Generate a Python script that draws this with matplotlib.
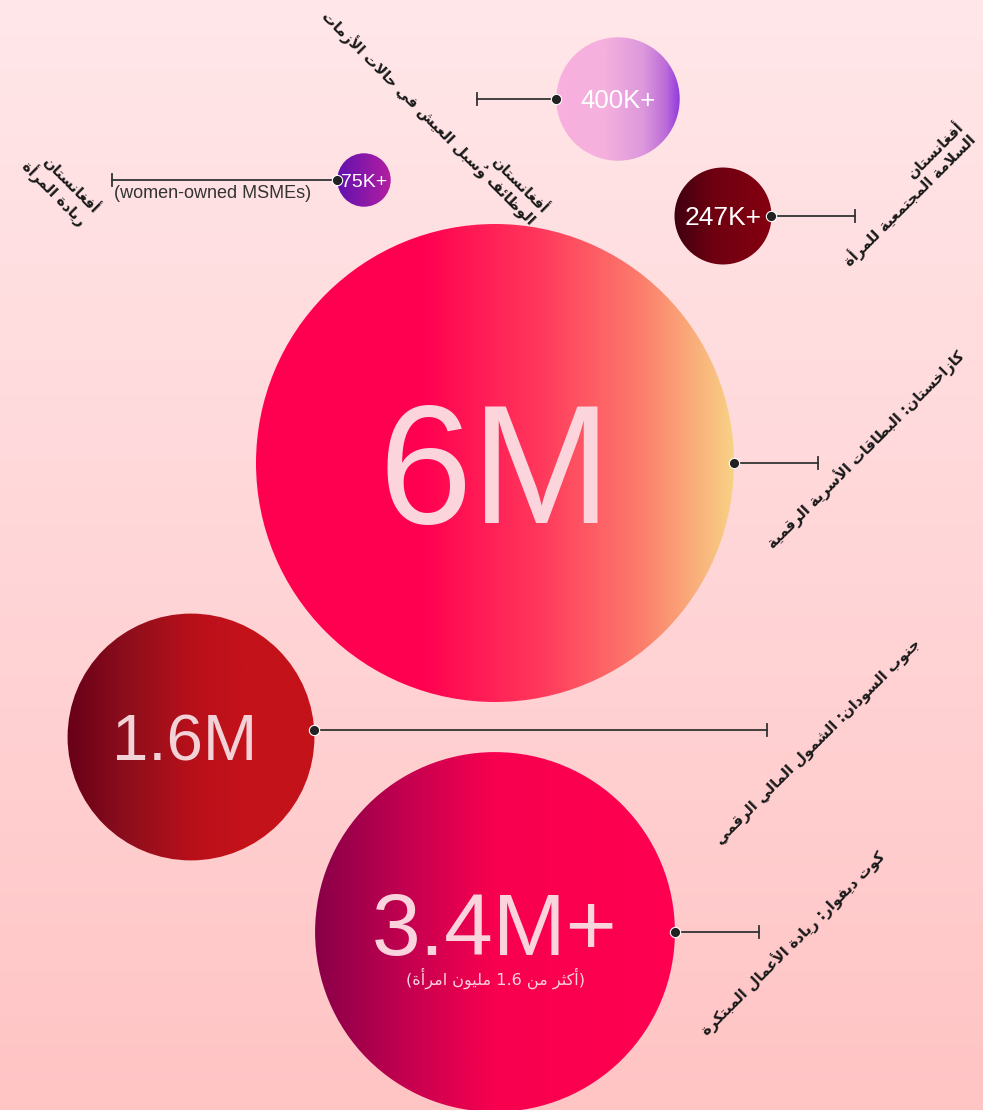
import numpy as np
import matplotlib
matplotlib.use('Agg')
import matplotlib.pyplot as plt
from matplotlib.colors import LinearSegmentedColormap
from matplotlib.patches import Circle

# данные
values = [6_000_000, 1_600_000, 3_400_000, 400_000, 247_000, 75_000]
value_labels = ['6M', '1.6M', '3.4M+', '400K+', '247K+', '75K+']
descriptions = [
    'كازاخستان: البطاقات الأسرية الرقمية',
    'جنوب السودان: الشمول المالي الرقمي',
    'كوت ديفوار: ريادة الأعمال المبتكرة',
    'أفغانستان\nالوظائف وسُبل العيش في حالات الأزمات',
    'أفغانستان\nالسلامة المجتمعية للمرأة',
    'أفغانستان\nريادة المرأة',
]
sub_labels = ['', '', '(أكثر من 1.6 مليون امرأة)', '', '', '(women-owned MSMEs)']

# раскладка (пиксели)
centers = [(495, 463), (191, 737), (495, 932), (618, 99), (723, 216), (364, 180)]
sides = [1, 1, 1, -1, 1, -1]
leader_len = [84, 453, 84, 79, 84, 225]
dot_dy = [0, -7, 0, 0, 0, 0]
text_dx = [0, -6, 0, 0, 0, 0]
text_dy = [0, 0, -8, 0, 0, 0]
label_pos = [(866, 450), (818, 742), (793, 943), (435, 112), (904, 194), (60, 187)]
label_rot = [45, 45, 45, -45, 45, -45]
value_size = [121, 47, 63, 18.5, 19, 14]
value_color = ['#fcd4dc', '#f2d2d6', '#fbd3dc', 'white', 'white', 'white']
gradients = [
    [(0, '#ff0050'), (0.35, '#ff0050'), (0.6, '#ff3a5c'), (0.8, '#fc7c6c'), (1, '#f8d486')],
    [(0, '#660018'), (0.25, '#8e0e1c'), (0.5, '#b8101a'), (0.7, '#c4121a'), (1, '#c4121a')],
    [(0, '#860048'), (0.25, '#c2004f'), (0.5, '#f8004f'), (1, '#ff0050')],
    [(0, '#f9b0de'), (0.4, '#f5b0de'), (0.7, '#dc98dc'), (0.87, '#bd6cd8'), (1, '#8630e0')],
    [(0, '#3c0010'), (0.4, '#6e0010'), (1, '#860010')],
    [(0, '#5c10b0'), (1, '#b820a0')],
]

# --- простой арабский шейпинг (matplotlib сам не соединяет буквы) ---
_table = [
    (0x0621, 0xFE80, 1), (0x0622, 0xFE81, 2), (0x0623, 0xFE83, 2), (0x0624, 0xFE85, 2),
    (0x0625, 0xFE87, 2), (0x0626, 0xFE89, 4), (0x0627, 0xFE8D, 2), (0x0628, 0xFE8F, 4),
    (0x0629, 0xFE93, 2), (0x062A, 0xFE95, 4), (0x062B, 0xFE99, 4), (0x062C, 0xFE9D, 4),
    (0x062D, 0xFEA1, 4), (0x062E, 0xFEA5, 4), (0x062F, 0xFEA9, 2), (0x0630, 0xFEAB, 2),
    (0x0631, 0xFEAD, 2), (0x0632, 0xFEAF, 2), (0x0633, 0xFEB1, 4), (0x0634, 0xFEB5, 4),
    (0x0635, 0xFEB9, 4), (0x0636, 0xFEBD, 4), (0x0637, 0xFEC1, 4), (0x0638, 0xFEC5, 4),
    (0x0639, 0xFEC9, 4), (0x063A, 0xFECD, 4), (0x0641, 0xFED1, 4), (0x0642, 0xFED5, 4),
    (0x0643, 0xFED9, 4), (0x0644, 0xFEDD, 4), (0x0645, 0xFEE1, 4), (0x0646, 0xFEE5, 4),
    (0x0647, 0xFEE9, 4), (0x0648, 0xFEED, 2), (0x0649, 0xFEEF, 2), (0x064A, 0xFEF1, 4),
]
FORMS = {chr(c): (s, n) for c, s, n in _table}
LAM_ALEF = {'\u0622': 0xFEF5, '\u0623': 0xFEF7, '\u0625': 0xFEF9, '\u0627': 0xFEFB}
MIRROR = {'(': ')', ')': '('}


def is_mark(ch):
    return 0x064B <= ord(ch) <= 0x0652


def clusters(text):
    out = []
    for ch in text:
        if is_mark(ch) and out:
            out[-1][1] += ch
        else:
            out.append([ch, ''])
    return out


def shape(text):
    cl = clusters(text)
    merged = []
    i = 0
    while i < len(cl):
        b, m = cl[i]
        if b == '\u0644' and i + 1 < len(cl) and cl[i + 1][0] in LAM_ALEF:
            merged.append(['LA', m + cl[i + 1][1], LAM_ALEF[cl[i + 1][0]]])
            i += 2
            continue
        merged.append([b, m, None])
        i += 1

    def n_forms(c):
        if c[0] == 'LA':
            return 2
        return FORMS[c[0]][1] if c[0] in FORMS else 0

    res = ''
    for k, c in enumerate(merged):
        n = n_forms(c)
        prev_j = k > 0 and n_forms(merged[k - 1]) == 4 and n >= 2
        next_j = n == 4 and k + 1 < len(merged) and n_forms(merged[k + 1]) >= 2
        if c[0] == 'LA':
            res += chr(c[2] + (1 if prev_j else 0)) + c[1]
        elif n == 0:
            res += c[0] + c[1]
        else:
            start = FORMS[c[0]][0]
            if n == 4:
                idx = 3 if (prev_j and next_j) else 1 if prev_j else 2 if next_j else 0
            else:
                idx = 1 if prev_j else 0
            res += chr(start + idx) + c[1]
    return res


def is_ltr(ch):
    return ch.isascii() and (ch.isalnum() or ch == '.')


def rtl_line(text):
    cl = clusters(shape(text))
    runs = []
    for b, m in cl:
        ltr = is_ltr(b)
        if runs and runs[-1][0] == ltr:
            runs[-1][1].append(b + m)
        else:
            runs.append([ltr, [b + m]])
    out = ''
    for ltr, items in reversed(runs):
        if ltr:
            out += ''.join(items)
        else:
            out += ''.join(MIRROR.get(s, s) for s in reversed(items))
    return out


def rtl(text):
    return '\n'.join(rtl_line(t) for t in text.split('\n'))


# --- рисунок ---
W, H = 983, 1110
fig = plt.figure(figsize=(W / 100, H / 100), dpi=100)
ax = fig.add_axes([0, 0, 1, 1])
ax.set_xlim(0, W)
ax.set_ylim(H, 0)
ax.axis('off')

bg = LinearSegmentedColormap.from_list('bg', ['#ffe7e9', '#ffd6d8', '#ffc4c4'])
ax.imshow(np.linspace(0, 1, 256).reshape(-1, 1), cmap=bg, extent=[0, W, H, 0],
          aspect='auto', zorder=0)

r_max = 239
for i, v in enumerate(values):
    cx, cy = centers[i]
    r = r_max * np.sqrt(v / values[0])
    cmap = LinearSegmentedColormap.from_list('g%d' % i, gradients[i])
    circ = Circle((cx, cy), r, transform=ax.transData, facecolor='none', edgecolor='none')
    ax.add_patch(circ)
    pad = 3
    im = ax.imshow(np.linspace(0, 1, 256).reshape(1, -1), cmap=cmap,
                   extent=[cx - r - pad, cx + r + pad, cy + r + pad, cy - r - pad],
                   aspect='auto', zorder=2)
    im.set_clip_path(circ)

    # выноска
    y = cy + dot_dy[i]
    dx = np.sqrt(max(r ** 2 - dot_dy[i] ** 2, 0))
    x0 = cx + sides[i] * dx
    x1 = x0 + sides[i] * leader_len[i]
    ax.plot([x0, x1], [y, y], color='#333333', lw=1.3, zorder=3)
    ax.plot([x1, x1], [y - 6, y + 6], color='#333333', lw=1.3, zorder=3)
    ax.scatter([x0], [y], s=55, color='#222222', edgecolor='white', linewidth=0.8, zorder=4)

    # значения (по базовой линии)
    base = cy + text_dy[i] + 0.358 * value_size[i] * 100 / 72
    ax.text(cx + text_dx[i], base, value_labels[i], fontsize=value_size[i], color=value_color[i],
            family='Liberation Sans', ha='center', va='baseline', zorder=5)

    ax.text(label_pos[i][0], label_pos[i][1], rtl(descriptions[i]), fontsize=10.5,
            fontweight='bold', family='DejaVu Sans', color='#1a1a1a', rotation=label_rot[i],
            rotation_mode='anchor', ha='center', va='center', multialignment='right',
            linespacing=1.0, zorder=5)

# подписи под значениями
ax.text(495, 978, rtl(sub_labels[2]), fontsize=11.5, color='#fbd3dc',
        family='DejaVu Sans', ha='center', va='center', zorder=5)
ax.text(213, 194, sub_labels[5], fontsize=13, color='#333333',
        family='Liberation Sans', ha='center', va='center', zorder=5)

fig.savefig('out.png', dpi=100)
